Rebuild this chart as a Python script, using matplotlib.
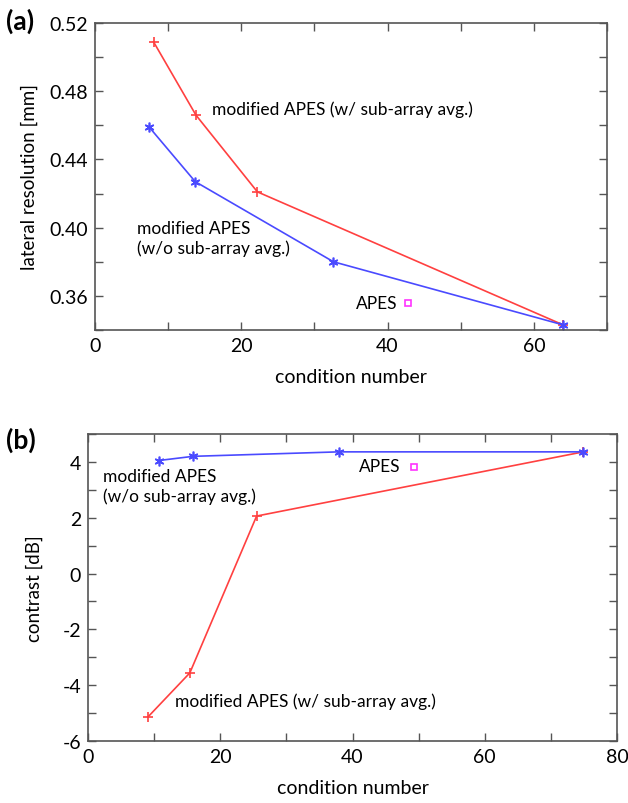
import matplotlib
matplotlib.use("Agg")
import matplotlib.pyplot as plt
from matplotlib.ticker import MultipleLocator, FormatStrFormatter

plt.rcParams['font.family'] = ['Lato', 'DejaVu Sans']
plt.rcParams['axes.unicode_minus'] = False

# Panel (a): lateral resolution
a_red_x = [8.0, 13.8, 22.2, 64.0]
a_red_y = [0.509, 0.466, 0.421, 0.343]
a_blue_x = [7.4, 13.7, 32.6, 64.0]
a_blue_y = [0.459, 0.427, 0.380, 0.343]
a_apes_x = [42.8]
a_apes_y = [0.3557]

# Panel (b): contrast
b_red_x = [9.1, 15.4, 25.5, 74.9]
b_red_y = [-5.13, -3.56, 2.06, 4.36]
b_blue_x = [10.7, 15.9, 37.9, 74.9]
b_blue_y = [4.05, 4.20, 4.36, 4.36]
b_apes_x = [49.3]
b_apes_y = [3.81]

RED = '#ff4040'
BLUE = '#4a4aff'
MAG = '#ff33ff'
SPINE = '#555555'

fig = plt.figure(figsize=(6.28, 8.04), dpi=100)

def style(ax):
    for s in ax.spines.values():
        s.set_color(SPINE)
        s.set_linewidth(1.2)
    ax.tick_params(which='both', direction='in', top=True, right=True,
                   color=SPINE, length=6, width=1.0, labelsize=14, pad=5)

ax1 = fig.add_axes([95/628, (804-331)/804, 512/628, 307/804])
ax1.plot(a_red_x, a_red_y, color=RED, lw=1.2, marker='+', ms=7, mew=1.2)
ax1.plot(a_blue_x, a_blue_y, color=BLUE, lw=1.2, marker=(6, 2, 0), ms=7, mew=1.2)
ax1.plot(a_apes_x, a_apes_y, ls='none', marker='s', ms=5, mfc='none', mec=MAG, mew=1.2)
ax1.set_xlim(0, 70)
ax1.set_ylim(0.34, 0.52)
ax1.xaxis.set_major_locator(MultipleLocator(20))
ax1.xaxis.set_minor_locator(MultipleLocator(10))
ax1.yaxis.set_major_locator(MultipleLocator(0.04))
ax1.yaxis.set_minor_locator(MultipleLocator(0.02))
ax1.yaxis.set_major_formatter(FormatStrFormatter('%.2f'))
style(ax1)
ax1.set_xlabel('condition number', fontsize=14, labelpad=10)
ax1.set_ylabel('lateral resolution [mm]', fontsize=13.5, labelpad=8)
ax1.text(16.0, 0.470, 'modified APES (w/ sub-array avg.)', fontsize=12.5, va='center', ha='left')
ax1.text(5.7, 0.394, 'modified APES\n(w/o sub-array avg.)', fontsize=12.5, va='center', ha='left', linespacing=1.25)
ax1.text(41.4, 0.3557, 'APES', fontsize=12.5, va='center', ha='right')
fig.text(6/628, 1 - 21/804, '(a)', fontsize=19, fontweight='bold', va='center', ha='left')

ax2 = fig.add_axes([88/628, (804-742)/804, 529/628, 307/804])
ax2.plot(b_red_x, b_red_y, color=RED, lw=1.2, marker='+', ms=7, mew=1.2)
ax2.plot(b_blue_x, b_blue_y, color=BLUE, lw=1.2, marker=(6, 2, 0), ms=7, mew=1.2)
ax2.plot(b_apes_x, b_apes_y, ls='none', marker='s', ms=5, mfc='none', mec=MAG, mew=1.2)
ax2.set_xlim(0, 80)
ax2.set_ylim(-6, 5)
ax2.xaxis.set_major_locator(MultipleLocator(20))
ax2.xaxis.set_minor_locator(MultipleLocator(10))
ax2.yaxis.set_major_locator(MultipleLocator(2))
ax2.yaxis.set_minor_locator(MultipleLocator(1))
style(ax2)
ax2.set_xlabel('condition number', fontsize=14, labelpad=10)
ax2.set_ylabel('contrast [dB]', fontsize=13.5, labelpad=14)
ax2.text(2.3, 3.13, 'modified APES\n(w/o sub-array avg.)', fontsize=12.5, va='center', ha='left', linespacing=1.25)
ax2.text(47.3, 3.86, 'APES', fontsize=12.5, va='center', ha='right')
ax2.text(13.2, -4.57, 'modified APES (w/ sub-array avg.)', fontsize=12.5, va='center', ha='left')
fig.text(6/628, 1 - 440/804, '(b)', fontsize=19, fontweight='bold', va='center', ha='left')

fig.savefig('out.png', dpi=100)
